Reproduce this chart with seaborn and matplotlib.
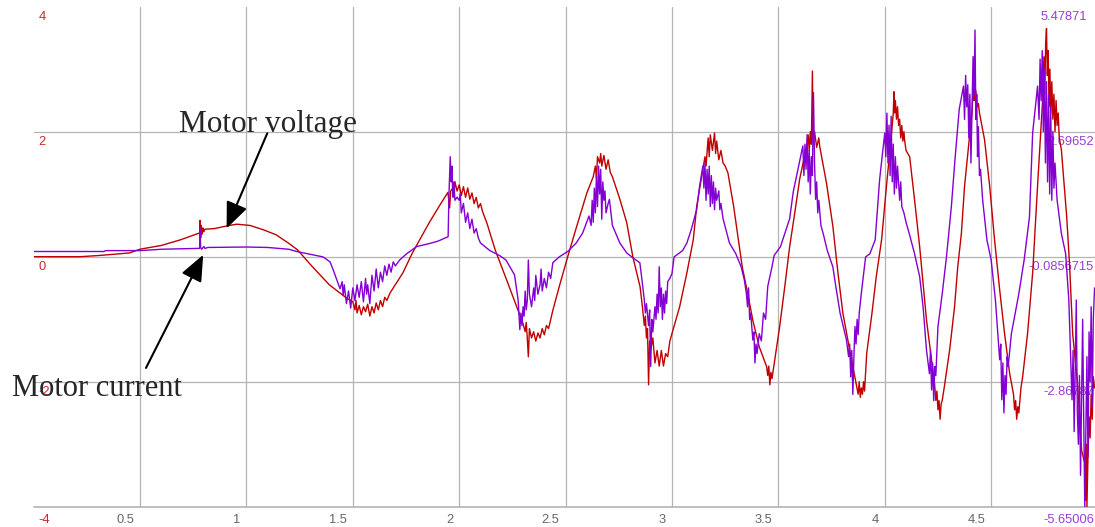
import pandas as pd
import matplotlib
matplotlib.use("Agg")
import matplotlib.pyplot as plt
import matplotlib.transforms as mtrans
import seaborn as sns


# axis labels as they appear on the scope screenshot
x_ticks = [0.5, 1, 1.5, 2, 2.5, 3, 3.5, 4, 4.5]
x_tick_labels = ["0.5", "1", "1.5", "2", "2.5", "3", "3.5", "4", "4.5"]
volt_ticks = [4, 2, 0, -2, -4]
volt_tick_labels = ["4", "2", "0", "-2", "-4"]
curr_ticks = [5.47871, 2.69652, -0.0856715, -2.86787, -5.65006]
curr_tick_labels = ["5.47871", "2.69652", "-0.0856715", "-2.86787", "-5.65006"]

# motor voltage (left axis), (time, value)
voltage_pts = [
    (0.0, 0.0), (0.22, 0.0), (0.31, 0.02), (0.45, 0.06), (0.5, 0.12), (0.6, 0.18), (0.69, 0.27),
    (0.78, 0.38), (0.782, 0.58), (0.785, 0.3), (0.788, 0.5), (0.792, 0.36), (0.796, 0.46),
    (0.80, 0.4), (0.805, 0.44), (0.85, 0.45), (0.92, 0.5), (0.955, 0.52), (1.017, 0.5),
    (1.08, 0.43), (1.14, 0.35), (1.205, 0.2), (1.24, 0.11), (1.31, -0.16), (1.39, -0.45),
    (1.47, -0.66), (1.50, -0.72), (1.51, -0.85), (1.515, -0.7), (1.52, -0.9), (1.53, -0.78),
    (1.54, -0.93), (1.55, -0.8), (1.56, -0.88), (1.57, -0.76), (1.58, -0.95), (1.59, -0.8),
    (1.60, -0.9), (1.61, -0.74), (1.62, -0.85), (1.63, -0.7), (1.64, -0.8), (1.65, -0.65),
    (1.66, -0.7), (1.675, -0.58), (1.735, -0.26), (1.78, 0.06), (1.86, 0.55), (1.91, 0.83),
    (1.947, 1.03), (1.955, 0.78), (1.96, 1.05), (1.97, 1.1), (1.975, 0.95), (1.98, 1.2),
    (1.99, 1.05), (2.0, 1.15), (2.01, 0.98), (2.02, 1.12), (2.03, 0.95), (2.04, 1.1),
    (2.05, 0.92), (2.06, 1.02), (2.07, 0.85), (2.08, 0.95), (2.09, 0.78), (2.10, 0.85),
    (2.11, 0.72), (2.13, 0.54), (2.17, 0.1), (2.224, -0.38), (2.27, -0.8), (2.30, -1.07),
    (2.31, -1.2), (2.315, -1.05), (2.32, -1.3), (2.325, -1.6), (2.33, -1.15), (2.34, -1.3),
    (2.35, -1.2), (2.36, -1.35), (2.37, -1.22), (2.38, -1.3), (2.39, -1.15), (2.40, -1.25),
    (2.41, -1.1), (2.42, -1.15), (2.44, -0.86), (2.47, -0.48), (2.51, 0.0), (2.55, 0.46),
    (2.60, 1.02), (2.63, 1.28), (2.64, 1.45), (2.645, 1.25), (2.65, 1.6), (2.66, 1.5),
    (2.665, 1.65), (2.67, 1.45), (2.68, 1.62), (2.69, 1.4), (2.70, 1.55), (2.71, 1.35),
    (2.72, 1.28), (2.755, 0.92), (2.787, 0.55), (2.816, 0.0), (2.85, -0.48), (2.86, -0.77),
    (2.87, -1.1), (2.875, -0.95), (2.88, -1.3), (2.885, -1.15), (2.89, -2.05), (2.895, -1.35),
    (2.90, -1.5), (2.91, -1.3), (2.92, -1.7), (2.93, -1.5), (2.94, -1.75), (2.95, -1.5),
    (2.96, -1.75), (2.97, -1.55), (2.98, -1.6), (2.99, -1.35), (3.0, -1.23), (3.036, -0.8),
    (3.07, -0.26), (3.1, 0.27), (3.116, 0.8), (3.145, 1.4), (3.155, 1.6), (3.16, 1.45),
    (3.17, 1.9), (3.175, 1.6), (3.18, 1.95), (3.19, 1.7), (3.20, 1.98), (3.205, 1.65),
    (3.21, 1.85), (3.22, 1.55), (3.23, 1.7), (3.24, 1.5), (3.25, 1.45), (3.263, 1.34),
    (3.29, 0.8), (3.31, 0.32), (3.33, -0.16), (3.356, -0.59), (3.38, -1.02), (3.41, -1.44),
    (3.445, -1.76), (3.45, -1.9), (3.455, -1.75), (3.46, -2.05), (3.465, -1.85), (3.47, -1.95),
    (3.483, -1.65), (3.506, -1.12), (3.53, -0.48), (3.553, 0.16), (3.577, 0.7), (3.60, 1.24),
    (3.633, 1.77), (3.64, 1.95), (3.645, 1.7), (3.65, 2.0), (3.655, 1.8), (3.66, 2.97),
    (3.663, 1.85), (3.67, 2.0), (3.68, 1.75), (3.69, 1.9), (3.694, 1.77), (3.726, 1.18),
    (3.756, 0.49), (3.78, -0.26), (3.803, -0.9), (3.835, -1.49), (3.868, -2.08), (3.875, -2.2),
    (3.88, -2.0), (3.885, -2.25), (3.89, -2.1), (3.895, -2.2), (3.90, -2.0), (3.905, -2.15),
    (3.915, -1.55), (3.94, -0.9), (3.96, -0.32), (3.985, 0.27), (4.008, 1.13), (4.032, 1.98),
    (4.04, 2.3), (4.043, 2.64), (4.046, 2.3), (4.05, 2.5), (4.055, 2.2), (4.06, 2.4),
    (4.065, 2.1), (4.07, 2.2), (4.075, 1.9), (4.08, 2.1), (4.085, 1.85), (4.09, 2.0),
    (4.093, 1.87), (4.1, 1.7), (4.117, 1.6), (4.14, 0.91), (4.164, 0.16), (4.18, -0.43),
    (4.196, -1.01), (4.22, -1.65), (4.234, -2.03), (4.24, -2.3), (4.245, -2.15), (4.25, -2.45),
    (4.255, -2.3), (4.26, -2.6), (4.265, -2.35), (4.27, -2.3), (4.28, -2.08), (4.305, -1.49),
    (4.328, -0.8), (4.343, -0.16), (4.36, 0.37), (4.375, 1.13), (4.40, 1.98), (4.41, 2.3),
    (4.415, 2.7), (4.42, 2.5), (4.422, 3.0), (4.425, 2.7), (4.43, 2.6), (4.435, 2.4),
    (4.44, 2.45), (4.445, 2.3), (4.469, 1.87), (4.493, 1.13), (4.516, 0.27), (4.54, -0.53),
    (4.563, -1.23), (4.587, -1.87), (4.605, -2.2), (4.61, -2.45), (4.615, -2.3), (4.62, -2.6),
    (4.625, -2.4), (4.63, -2.5), (4.64, -2.1), (4.648, -1.92), (4.671, -1.23), (4.695, -0.26),
    (4.718, 1.13), (4.742, 2.52), (4.748, 3.2), (4.752, 2.6), (4.756, 3.4), (4.76, 3.65),
    (4.764, 2.9), (4.768, 3.3), (4.772, 2.4), (4.776, 3.0), (4.78, 2.3), (4.785, 2.8),
    (4.79, 2.2), (4.795, 2.6), (4.80, 2.0), (4.805, 2.5), (4.81, 2.1), (4.815, 2.3),
    (4.82, 1.9), (4.83, 1.71), (4.855, 0.64), (4.869, -0.16), (4.883, -1.23), (4.906, -2.03),
    (4.925, -3.1), (4.94, -3.3), (4.945, -3.9), (4.948, -3.0), (4.95, -4.0), (4.955, -3.2),
    (4.96, -2.56), (4.965, -2.9), (4.97, -2.2), (4.975, -2.6), (4.98, -1.92), (4.986, -2.1),
]

# motor current (right axis), (time, value)
current_pts = [
    (0.0, 0.03), (0.33, 0.03), (0.34, 0.05), (0.5, 0.05), (0.6, 0.08), (0.78, 0.10),
    (0.782, 0.54), (0.785, 0.12), (0.79, 0.08), (0.80, 0.14), (0.805, 0.10), (0.82, 0.12),
    (1.0, 0.13), (1.1, 0.12), (1.2, 0.08), (1.236, 0.03), (1.36, -0.09), (1.393, -0.20),
    (1.408, -0.38), (1.44, -0.80), (1.45, -0.64), (1.455, -0.95), (1.46, -0.71), (1.47, -1.13),
    (1.48, -0.85), (1.49, -1.23), (1.50, -0.78), (1.51, -1.06), (1.52, -0.71), (1.53, -0.99),
    (1.54, -0.64), (1.55, -1.09), (1.56, -0.57), (1.565, -0.92), (1.57, -0.71), (1.58, -1.13),
    (1.59, -0.50), (1.60, -0.85), (1.61, -0.36), (1.62, -0.78), (1.63, -0.43), (1.64, -0.64),
    (1.65, -0.29), (1.66, -0.50), (1.67, -0.25), (1.68, -0.43), (1.69, -0.20), (1.70, -0.29),
    (1.72, -0.16), (1.753, -0.02), (1.80, 0.14), (1.862, 0.21), (1.90, 0.26), (1.948, 0.36),
    (1.952, 1.31), (1.958, 2.14), (1.962, 1.58), (1.966, 1.93), (1.97, 1.24), (1.975, 1.58),
    (1.98, 1.17), (1.99, 1.24), (2.0, 1.17), (2.005, 1.31), (2.01, 0.89), (2.02, 1.10),
    (2.03, 0.68), (2.04, 0.89), (2.05, 0.54), (2.06, 0.75), (2.07, 0.44), (2.08, 0.54),
    (2.09, 0.33), (2.10, 0.22), (2.144, 0.05), (2.19, -0.06), (2.22, -0.16), (2.26, -0.49),
    (2.277, -1.05), (2.285, -1.71), (2.29, -1.34), (2.295, -1.62), (2.30, -1.20), (2.305, -1.41),
    (2.31, -0.85), (2.315, -1.27), (2.32, -1.06), (2.325, -0.16), (2.33, -0.92), (2.34, -1.20),
    (2.35, -0.78), (2.355, -1.06), (2.36, -0.50), (2.37, -0.92), (2.38, -0.71), (2.385, -0.36),
    (2.39, -0.85), (2.40, -0.57), (2.41, -0.78), (2.42, -0.43), (2.43, -0.57), (2.44, -0.22),
    (2.47, -0.09), (2.51, 0.03), (2.55, 0.22), (2.58, 0.44), (2.61, 0.82), (2.62, 0.61),
    (2.625, 1.17), (2.63, 0.68), (2.635, 1.44), (2.64, 0.89), (2.645, 1.72), (2.65, 1.03),
    (2.655, 1.93), (2.66, 1.31), (2.665, 1.86), (2.67, 0.75), (2.675, 1.58), (2.68, 1.17),
    (2.685, 1.38), (2.69, 0.89), (2.70, 1.10), (2.706, 1.19), (2.72, 0.61), (2.755, 0.22),
    (2.787, 0.0), (2.816, -0.11), (2.849, -0.22), (2.86, -0.64), (2.87, -1.05), (2.875, -1.34),
    (2.88, -1.13), (2.89, -1.62), (2.895, -1.27), (2.90, -2.53), (2.905, -1.48), (2.91, -1.76),
    (2.92, -1.20), (2.925, -1.48), (2.93, -0.92), (2.935, -1.34), (2.94, -0.31), (2.945, -1.20),
    (2.95, -0.78), (2.955, -1.48), (2.96, -0.92), (2.965, -1.34), (2.97, -0.85), (2.975, -1.13),
    (2.98, -0.64), (2.99, -0.57), (3.0, -0.46), (3.01, -0.09), (3.05, 0.05), (3.07, 0.22),
    (3.09, 0.51), (3.116, 0.96), (3.13, 1.49), (3.145, 1.93), (3.15, 1.44), (3.155, 2.00),
    (3.16, 1.17), (3.165, 1.86), (3.17, 1.31), (3.175, 1.93), (3.18, 1.03), (3.185, 1.72),
    (3.19, 1.10), (3.195, 1.58), (3.20, 0.96), (3.205, 1.44), (3.21, 1.17), (3.22, 1.38),
    (3.225, 0.96), (3.23, 1.10), (3.24, 0.76), (3.27, 0.22), (3.30, -0.02), (3.325, -0.31),
    (3.34, -0.60), (3.35, -0.92), (3.355, -1.20), (3.36, -0.78), (3.365, -1.48), (3.37, -1.34),
    (3.38, -1.94), (3.385, -1.76), (3.39, -2.45), (3.395, -2.03), (3.40, -2.24), (3.41, -1.80),
    (3.42, -1.96), (3.43, -1.34), (3.44, -1.48), (3.45, -0.75), (3.47, -0.31), (3.48, -0.06),
    (3.51, 0.14), (3.553, 0.76), (3.57, 1.36), (3.59, 1.81), (3.615, 2.38), (3.62, 1.72),
    (3.625, 2.42), (3.63, 1.86), (3.635, 2.63), (3.64, 1.58), (3.645, 2.28), (3.65, 1.31),
    (3.655, 2.14), (3.66, 1.72), (3.665, 3.57), (3.67, 2.00), (3.675, 1.19), (3.68, 1.58),
    (3.685, 0.89), (3.69, 1.17), (3.70, 0.61), (3.71, 0.44), (3.73, 0.05), (3.756, -0.31),
    (3.77, -0.75), (3.79, -1.34), (3.82, -1.94), (3.83, -2.31), (3.835, -2.03), (3.84, -2.76),
    (3.845, -2.17), (3.85, -3.15), (3.855, -2.31), (3.86, -1.64), (3.865, -2.03), (3.87, -1.48),
    (3.875, -1.82), (3.88, -1.34), (3.89, -0.89), (3.91, -0.09), (3.93, -0.02), (3.955, 0.29),
    (3.976, 1.64), (4.0, 2.67), (4.005, 2.14), (4.01, 3.11), (4.015, 2.00), (4.02, 2.84),
    (4.025, 1.72), (4.03, 3.04), (4.035, 1.58), (4.04, 2.42), (4.045, 1.31), (4.05, 2.14),
    (4.055, 1.44), (4.06, 1.93), (4.07, 1.17), (4.075, 1.58), (4.08, 1.03), (4.09, 0.89),
    (4.10, 0.68), (4.115, 0.43), (4.14, -0.02), (4.164, -0.53), (4.18, -1.20), (4.196, -2.16),
    (4.21, -2.69), (4.215, -2.17), (4.22, -3.05), (4.225, -2.45), (4.23, -3.29), (4.235, -2.53),
    (4.24, -2.73), (4.25, -1.64), (4.27, -0.91), (4.29, -0.09), (4.313, 1.03), (4.33, 2.08),
    (4.35, 3.20), (4.37, 3.71), (4.375, 2.97), (4.38, 3.95), (4.385, 3.25), (4.39, 3.74),
    (4.395, 2.56), (4.40, 3.53), (4.405, 2.00), (4.41, 3.25), (4.415, 4.37), (4.42, 3.53),
    (4.424, 4.96), (4.428, 2.97), (4.432, 3.53), (4.436, 2.14), (4.44, 2.81), (4.445, 1.72),
    (4.45, 1.86), (4.46, 1.18), (4.48, 0.29), (4.50, -0.16), (4.52, -1.05), (4.54, -2.38),
    (4.545, -2.03), (4.55, -3.27), (4.555, -2.45), (4.56, -3.56), (4.565, -2.73), (4.57, -3.15),
    (4.575, -2.31), (4.58, -2.53), (4.595, -1.80), (4.63, -0.91), (4.655, -0.16), (4.68, 0.80),
    (4.695, 2.67), (4.718, 3.71), (4.725, 2.97), (4.73, 4.31), (4.735, 3.39), (4.74, 4.50),
    (4.745, 2.70), (4.75, 4.09), (4.755, 2.00), (4.76, 3.81), (4.765, 1.58), (4.77, 3.53),
    (4.775, 1.31), (4.78, 3.25), (4.785, 1.17), (4.79, 2.70), (4.795, 1.44), (4.80, 2.00),
    (4.81, 1.17), (4.83, 0.43), (4.85, -0.02), (4.865, -1.05), (4.88, -3.27), (4.885, -2.17),
    (4.89, -3.98), (4.895, -2.59), (4.90, -1.05), (4.905, -3.56), (4.91, -4.26), (4.915, -2.73),
    (4.92, -4.95), (4.925, -3.15), (4.93, -1.48), (4.935, -3.70), (4.94, -5.65), (4.945, -3.98),
    (4.95, -2.31), (4.955, -4.54), (4.96, -1.76), (4.965, -2.87), (4.97, -1.20), (4.975, -3.42),
    (4.98, -1.48), (4.986, -0.78),
]

RED = "#c00000"
PURPLE = "#8400d2"
GRID = "#b4b4b4"
RED_TXT = "#cc2a2a"
PURPLE_TXT = "#9a3ed6"
GRAY_TXT = "#666666"


def to_df(pts, name):
    """Turns a list of (time, value) pairs into a dataframe"""
    return pd.DataFrame(pts, columns=["Time", name])


def offset(trans, fig, dx, dy):
    return mtrans.offset_copy(trans, fig=fig, x=dx, y=dy, units="dots")


if __name__ == "__main__":
    sns.set_style("white")
    plt.rcParams["font.family"] = ["Liberation Sans", "DejaVu Sans"]

    fig = plt.figure(figsize=(10.95, 5.27), dpi=100)
    ax = fig.add_axes([0.0307, 0.0385, 0.9693, 0.9488])
    ax2 = ax.twinx()

    volt_df = to_df(voltage_pts, "Voltage")
    curr_df = to_df(current_pts, "Current")

    sns.lineplot(data=volt_df, x="Time", y="Voltage", ax=ax, color=RED, lw=1.0,
                 estimator=None, sort=False, zorder=3)
    sns.lineplot(data=curr_df, x="Time", y="Current", ax=ax2, color=PURPLE, lw=1.0,
                 estimator=None, sort=False, zorder=3)

    ax.set_xlim(0, 4.988)
    ax.set_ylim(-4, 4)
    ax2.set_ylim(-5.65006, 5.47871)
    for a in (ax, ax2):
        a.set_xlabel("")
        a.set_ylabel("")
        a.set_xticks([])
        a.set_yticks([])
        for s in a.spines.values():
            s.set_visible(False)

    # grid
    for t in x_ticks:
        ax.axvline(t, color=GRID, lw=0.9, zorder=1)
    for v in [2, 0, -2]:
        ax.axhline(v, color=GRID, lw=0.9, zorder=1)
    ax.axhline(-4, color=GRID, lw=1.2, zorder=1, clip_on=False)

    # tick labels drawn as text, under the traces
    for t, lab in zip(x_ticks, x_tick_labels):
        ax.text(t, -4, lab, transform=offset(ax.transData, fig, -6, -13),
                ha="right", va="center", fontsize=9.3, color=GRAY_TXT, clip_on=False)

    for v, lab in zip(volt_ticks, volt_tick_labels):
        dy = -13 if v == -4 else -10
        ax.text(0, v, lab, transform=offset(ax.transData, fig, 5, dy),
                ha="left", va="center", fontsize=9.3, color=RED_TXT, zorder=2, clip_on=False)

    right_trans = mtrans.blended_transform_factory(ax.transAxes, ax2.transData)
    for v, lab in zip(curr_ticks, curr_tick_labels):
        dx = -8 if v == curr_ticks[0] else -1
        dy = -13 if v == curr_ticks[-1] else -10
        ax.text(1.0, v, lab, transform=offset(right_trans, fig, dx, dy),
                ha="right", va="center", fontsize=9.3, color=PURPLE_TXT, zorder=2, clip_on=False)

    # annotations
    arrow = dict(arrowstyle="-|>,head_length=1.0,head_width=0.42", mutation_scale=16,
                 color="black", lw=1.5, shrinkA=0, shrinkB=0)
    ax2.annotate("", xy=(0.907, 0.454), xytext=(1.098, 1.974),
                 xycoords=ax.transData, textcoords=ax.transData, arrowprops=arrow)
    ax2.annotate("", xy=(0.797, 0.03), xytext=(0.528, -1.78),
                 xycoords=ax.transData, textcoords=ax.transData, arrowprops=arrow)
    ax2.text(0.683, 2.0, "Motor voltage", transform=ax.transData, fontsize=22.5,
             family=["Liberation Serif", "DejaVu Serif"], va="baseline", ha="left")
    ax2.text(-0.101, -2.23, "Motor current", transform=ax.transData, fontsize=22,
             family=["Liberation Serif", "DejaVu Serif"], va="baseline", ha="left",
             clip_on=False)

    fig.savefig("out.png", dpi=100)
